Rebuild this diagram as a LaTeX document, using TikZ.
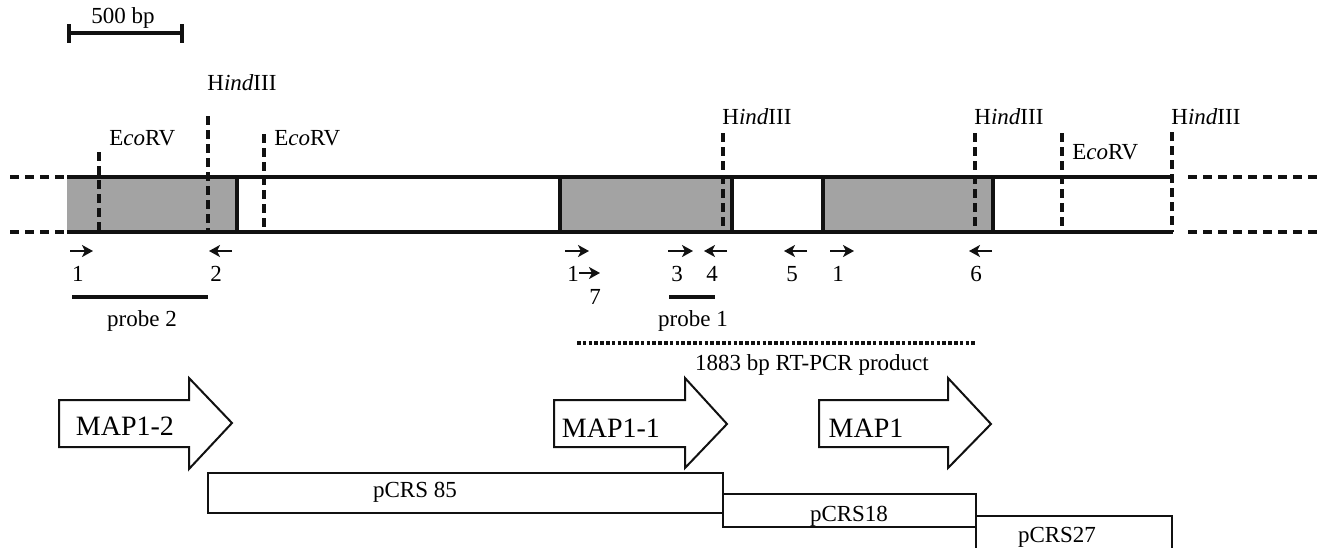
\documentclass[tikz,border=0pt]{standalone}
\usepackage{fontspec}
\setmainfont{Liberation Serif}
\usetikzlibrary{arrows.meta,positioning}
\definecolor{exon}{HTML}{A3A3A3}
\definecolor{ink}{HTML}{111111}

\begin{document}
\begin{tikzpicture}[x=0.5pt,y=-0.5pt,
  track/.style={ink,line width=2pt},
  ext/.style={ink,line width=2pt,dash pattern=on 4.5pt off 3pt},
  site/.style={ink,line width=2.2pt,dash pattern=on 4.5pt off 2.5pt},
  primer/.style={ink,line width=1.2pt,-{Stealth[length=5.5pt,width=6pt,inset=1.5pt]}},
  lbl/.style={font=\fontsize{11.5}{13}\selectfont,inner sep=0pt},
  genebox/.style={ink,line width=1pt,fill=white}]
  \useasboundingbox (0,0) rectangle (1318,547);

  % Scale bar
  \draw[ink,line width=2pt] (69,33) -- (182,33);
  \draw[ink,line width=2pt] (69,24) -- (69,43) (182,24) -- (182,43);
  \node[lbl] (scale) at (123,18) {500 bp};

  % Exons
  \fill[exon] (67,177) rectangle (237,232);
  \fill[exon] (560,177) rectangle (732,232);
  \fill[exon] (823,177) rectangle (993,232);

  % Genomic track
  \draw[track] (67,177) -- (1173,177);
  \draw[track] (67,232) -- (1173,232);
  \foreach \x in {237,560,732,823,993}
    \draw[track] (\x,177) -- (\x,232);
  \draw[ext] (10,177) -- (65,177) (10,232) -- (65,232);
  \draw[ext] (1188,177) -- (1318,177) (1188,232) -- (1318,232);

  % Restriction sites
  \foreach \x/\top in {99/152,208/116,264/134,723/133,975/133,1062/133,1172/132}
    \draw[site] (\x,\top) -- (\x,232);
  \node[lbl,anchor=west] (ecoA) at (109,138) {E\textit{co}RV};
  \node[lbl,anchor=west] (hindA) at (207,83) {H\textit{ind}III};
  \node[lbl,anchor=west] (ecoB) at (274,138) {E\textit{co}RV};
  \node[lbl,anchor=west] (hindB) at (722,117) {H\textit{ind}III};
  \node[lbl,anchor=west] (hindC) at (974,117) {H\textit{ind}III};
  \node[lbl,anchor=west] (ecoC) at (1072,152) {E\textit{co}RV};
  \node[lbl,anchor=west] (hindD) at (1171,117) {H\textit{ind}III};

  % Primers
  \draw[primer] (70,251) -- (93,251);
  \draw[primer] (232,251) -- (209,251);
  \draw[primer] (565,251) -- (589,251);
  \draw[primer] (579,273) -- (600,273);
  \draw[primer] (668,251) -- (693,251);
  \draw[primer] (727,251) -- (704,251);
  \draw[primer] (807,251) -- (784,251);
  \draw[primer] (830,251) -- (854,251);
  \draw[primer] (992,251) -- (969,251);
  \node[lbl] (pA) at (78,274) {1};
  \node[lbl] (pB) at (216,274) {2};
  \node[lbl] (pC) at (573,274) {1};
  \node[lbl] (pD) at (595,297) {7};
  \node[lbl] (pE) at (677,274) {3};
  \node[lbl] (pF) at (712,274) {4};
  \node[lbl] (pG) at (792,274) {5};
  \node[lbl] (pH) at (838,274) {1};
  \node[lbl] (pI) at (976,274) {6};

  % Probes
  \draw[ink,line width=2pt] (72,297) -- (208,297);
  \node[lbl] (probeB) at (142,321) {probe 2};
  \draw[ink,line width=2pt] (669,297) -- (715,297);
  \node[lbl] (probeA) at (693,321) {probe 1};

  % RT-PCR product
  \draw[ink,line width=1.8pt,dash pattern=on 1.8pt off 1.1pt] (577,343) -- (977,343);
  \node[lbl] (rtpcr) at (812,365) {1883 bp RT-PCR product};

  % Genes
  \draw[genebox] (59,400) -- (189,400) -- (189,378) -- (232,423) -- (189,469) -- (189,447) -- (59,447) -- cycle;
  \node[font=\fontsize{14}{16}\selectfont,inner sep=0pt] (map12) at (125,426) {MAP1-2};
  \draw[genebox] (554,400) -- (685,400) -- (685,378) -- (727,424) -- (685,468) -- (685,447) -- (554,447) -- cycle;
  \node[font=\fontsize{14}{16}\selectfont,inner sep=0pt] (map11) at (611,428) {MAP1-1};
  \draw[genebox] (819,400) -- (948,400) -- (948,378) -- (991,424) -- (948,468) -- (948,447) -- (819,447) -- cycle;
  \node[font=\fontsize{14}{16}\selectfont,inner sep=0pt] (map1) at (866,428) {MAP1};

  % Clones
  \draw[genebox] (208,473) rectangle (723,513);
  \node[lbl] (pcrs85) at (415,492) {pCRS 85};
  \draw[genebox] (723,494) rectangle (976,527);
  \node[lbl] (pcrs18) at (849,516) {pCRS18};
  \draw[ink,line width=1pt] (976,560) -- (976,516) -- (1172,516) -- (1172,560);
  \node[lbl] (pcrs27) at (1057,537) {pCRS27};
\end{tikzpicture}
\end{document}
